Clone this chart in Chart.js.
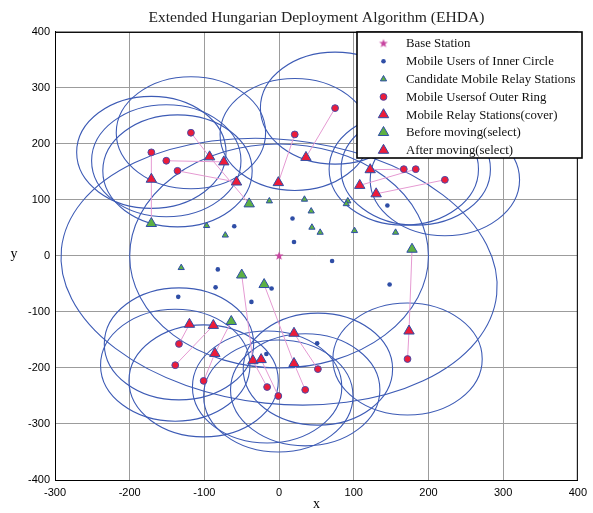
<!DOCTYPE html>
<html>
<head>
<meta charset="utf-8">
<title>EHDA</title>
<style>
  html, body { margin: 0; padding: 0; background: #fff; }
  #wrap { width: 593px; height: 513px; }
</style>
</head>
<body>
<div id="wrap"><canvas id="chart" width="593" height="513"></canvas></div>
<script src="https://cdn.jsdelivr.net/npm/chart.js@4.4.1/dist/chart.umd.min.js"></script>
<script>
// values
const xTicks = [-300, -200, -100, 0, 100, 200, 300, 400];
const yTicks = [-400, -300, -200, -100, 0, 100, 200, 300, 400];

const baseStation = [[0, 0]];
const innerUsers = [[-60, 53], [18, 67], [20, 25], [-82, -24], [-85, -56], [-135, -73], [-37, -82],
  [-10, -58], [-17, -175], [71, -9], [148, -51], [51, -156], [145, 90]];
const candidates = [[-13, 98], [-97, 54], [-72, 37], [-131, -21], [34, 101], [92, 98], [90, 93],
  [43, 80], [44, 51], [55, 42], [101, 45], [156, 42]];
const outerUsers = [[-118, 220], [-171, 185], [-151, 170], [-136, 152], [21, 217], [75, 264],
  [167, 155], [183, 155], [222, 136], [-134, -157], [-139, -195], [-101, -223], [-16, -234],
  [-1, -250], [35, -239], [52, -202], [172, -184]];
const relayCover = [[-74, 168], [-57, 132], [-1, 131], [36, 176], [122, 154], [108, 126], [130, 111],
  [-120, -122], [-88, -124], [-24, -185], [20, -138]];
const relayCoverUser = [2, 3, 4, 5, 6, 7, 8, 9, 10, 13, 15];
const beforeMove = [[-171, 58], [-40, 93], [-50, -34], [-20, -51], [-64, -117], [178, 12]];
const afterMove = [[-171, 137], [-93, 177], [-35, -187], [20, -192], [-86, -174], [174, -134]];
const afterMoveUser = [1, 0, 12, 14, 11, 16];

const userRange = 100;   // coverage circle round each outer user
const baseRange = 200;   // inner circle round the base station
const outerBound = [0, -28, 293, 236, 6]; // cx, cy, rx, ry, tilt (deg)

const blue = '#2f4ea6';
const red = '#ec1c3a';
const green = '#5db043';
const pink = '#e59ad2';
const magenta = '#c7449f';
const ringColor = '#3d5bb5';

const pts = arr => arr.map(p => ({ x: p[0], y: p[1] }));

// pink links: before -> after -> user, relay -> user
const links = [];
beforeMove.forEach((p, i) => {
  links.push({ x: p[0], y: p[1] }, { x: afterMove[i][0], y: afterMove[i][1] }, { x: null, y: null });
});
afterMove.forEach((p, i) => {
  const u = outerUsers[afterMoveUser[i]];
  links.push({ x: p[0], y: p[1] }, { x: u[0], y: u[1] }, { x: null, y: null });
});
relayCover.forEach((p, i) => {
  const u = outerUsers[relayCoverUser[i]];
  links.push({ x: p[0], y: p[1] }, { x: u[0], y: u[1] }, { x: null, y: null });
});

function makeStar(r, color) {
  const c = document.createElement('canvas');
  const s = Math.ceil(r * 2) + 2;
  c.width = s; c.height = s;
  const g = c.getContext('2d');
  g.fillStyle = color;
  g.beginPath();
  for (let i = 0; i < 10; i++) {
    const a = -Math.PI / 2 + i * Math.PI / 5;
    const rr = i % 2 ? r * 0.42 : r;
    g.lineTo(s / 2 + rr * Math.cos(a), s / 2 + rr * Math.sin(a));
  }
  g.closePath();
  g.fill();
  return c;
}
const star = makeStar(4.6, magenta);

const datasets = [
  { label: 'Base Station', data: pts(baseStation), pointStyle: star, pointRadius: 5,
    backgroundColor: magenta, borderColor: magenta, borderWidth: 0 },
  { label: 'Mobile Users of Inner Circle', data: pts(innerUsers), pointStyle: 'circle', pointRadius: 2.3,
    backgroundColor: blue, borderColor: blue, borderWidth: 0 },
  { label: 'Candidate Mobile Relay Stations', data: pts(candidates), pointStyle: 'triangle', pointRadius: 3.6,
    backgroundColor: green, borderColor: blue, borderWidth: 1 },
  { label: 'Mobile Usersof Outer Ring', data: pts(outerUsers), pointStyle: 'circle', pointRadius: 3.4,
    backgroundColor: red, borderColor: '#4a4aa8', borderWidth: 1 },
  { label: 'Mobile Relay Stations(cover)', data: pts(relayCover), pointStyle: 'triangle', pointRadius: 6,
    backgroundColor: red, borderColor: blue, borderWidth: 1 },
  { label: 'Before moving(select)', data: pts(beforeMove), pointStyle: 'triangle', pointRadius: 6,
    backgroundColor: green, borderColor: blue, borderWidth: 1 },
  { label: 'After moving(select)', data: pts(afterMove), pointStyle: 'triangle', pointRadius: 6,
    backgroundColor: red, borderColor: blue, borderWidth: 1 },
  { label: 'links', data: links, showLine: true, pointRadius: 0, borderColor: pink, borderWidth: 1,
    spanGaps: false, order: 10 }
];

// coverage circles, drawn under the markers
const ringPlugin = {
  id: 'rings',
  beforeDatasetsDraw(chart) {
    const { ctx, chartArea: a, scales: { x, y } } = chart;
    const ring = (cx, cy, rx, ry, tilt) => {
      const px = x.getPixelForValue(cx), py = y.getPixelForValue(cy);
      const w = Math.abs(x.getPixelForValue(cx + rx) - px);
      const h = Math.abs(y.getPixelForValue(cy + ry) - py);
      ctx.beginPath();
      ctx.ellipse(px, py, w, h, tilt * Math.PI / 180, 0, Math.PI * 2);
      ctx.stroke();
    };
    ctx.save();
    ctx.beginPath();
    ctx.rect(a.left, a.top, a.right - a.left, a.bottom - a.top);
    ctx.clip();
    ctx.strokeStyle = ringColor;
    ctx.lineWidth = 1.1;
    ring(outerBound[0], outerBound[1], outerBound[2], outerBound[3], outerBound[4]);
    ring(baseStation[0][0], baseStation[0][1], baseRange, baseRange, 0);
    outerUsers.forEach(u => ring(u[0], u[1], userRange, userRange, 0));
    ctx.restore();
  }
};

// box round the axes, upright y label, legend in the top right corner
const framePlugin = {
  id: 'frame',
  afterDraw(chart) {
    const { ctx, chartArea: a } = chart;
    ctx.save();
    ctx.strokeStyle = '#000';
    ctx.lineWidth = 1;
    ctx.strokeRect(a.left + 0.5, a.top + 0.5, a.right - a.left - 1, a.bottom - a.top);

    ctx.fillStyle = '#000';
    ctx.font = '14px "Liberation Serif", "Times New Roman", serif';
    ctx.textAlign = 'center';
    ctx.textBaseline = 'middle';
    ctx.fillText('y', 14, (a.top + a.bottom) / 2 - 2);

    const bx = 357, by = 32, bw = 225, bh = 126;
    ctx.fillStyle = '#fff';
    ctx.fillRect(bx, by, bw, bh);
    ctx.lineWidth = 1.6;
    ctx.strokeRect(bx, by, bw, bh);

    ctx.font = '12.8px "Liberation Serif", "Times New Roman", serif';
    ctx.textAlign = 'left';
    datasets.slice(0, 7).forEach((ds, i) => {
      const cy = 43.5 + i * 17.8;
      ctx.fillStyle = ds.backgroundColor;
      ctx.strokeStyle = ds.borderColor;
      ctx.lineWidth = ds.borderWidth;
      Chart.helpers.drawPoint(ctx, { pointStyle: ds.pointStyle, radius: ds.pointRadius,
        rotation: 0, borderWidth: ds.borderWidth }, 383.5, cy);
      ctx.fillStyle = '#111';
      ctx.fillText(ds.label, 406, cy + 0.5);
    });
    ctx.restore();
  }
};

const tickFont = { family: '"Liberation Sans", Arial, sans-serif', size: 11 };
const labelFont = { family: '"Liberation Serif", "Times New Roman", serif', size: 14 };

new Chart(document.getElementById('chart'), {
  type: 'scatter',
  data: { datasets },
  options: {
    responsive: false,
    animation: false,
    devicePixelRatio: 1,
    events: [],
    layout: { padding: { left: 0, right: 13, top: 0, bottom: 0 } },
    plugins: {
      legend: { display: false },
      tooltip: { enabled: false },
      title: {
        display: true,
        fullSize: false,
        text: 'Extended Hungarian Deployment Algorithm (EHDA)',
        color: '#222',
        font: { family: '"Liberation Serif", "Times New Roman", serif', size: 15.6, weight: 'normal', lineHeight: 1.15 },
        padding: { top: 9, bottom: 5 }
      }
    },
    scales: {
      x: {
        type: 'linear', min: -300, max: 400,
        afterBuildTicks: s => { s.ticks = xTicks.map(v => ({ value: v })); },
        afterFit: s => { s.height = 33; },
        grid: { color: '#9c9c9c', drawTicks: false },
        border: { color: '#000' },
        ticks: { color: '#000', font: tickFont, padding: 6, maxRotation: 0 },
        title: { display: true, text: 'x', color: '#000', font: labelFont, padding: { top: 0, bottom: 0 } }
      },
      y: {
        type: 'linear', min: -400, max: 400,
        afterBuildTicks: s => { s.ticks = yTicks.map(v => ({ value: v })); },
        afterFit: s => { s.width = 55; },
        grid: { color: '#9c9c9c', drawTicks: false },
        border: { color: '#000' },
        ticks: { color: '#000', font: tickFont, padding: 5 }
      }
    }
  },
  plugins: [ringPlugin, framePlugin]
});
</script>
</body>
</html>
